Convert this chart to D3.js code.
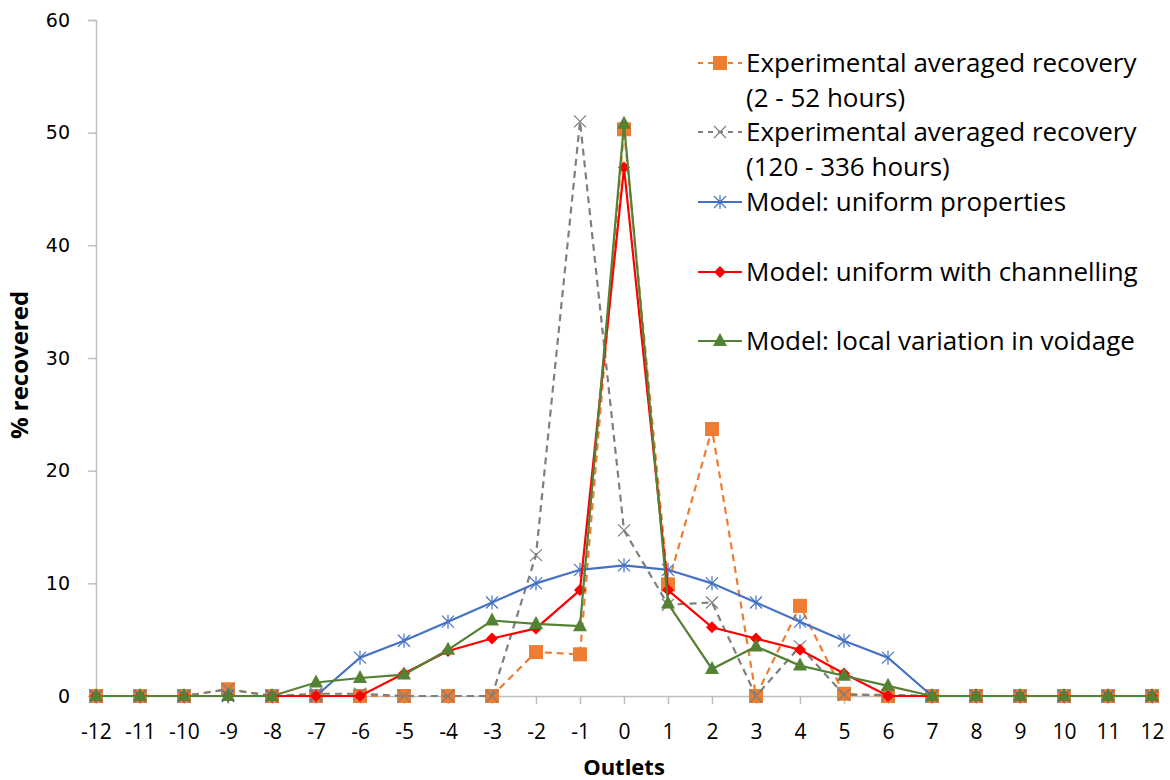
<!DOCTYPE html>
<html>
<head>
<meta charset="utf-8">
<script src="https://cdn.jsdelivr.net/npm/d3@7"></script>
<style>
body { margin: 0; background: #fff; }
text { font-family: "Open Sans", Lato, sans-serif; fill: #000; }
</style>
</head>
<body>
<div id="chart"></div>
<script>
// outlets -12 .. 12
var outlets = [-12,-11,-10,-9,-8,-7,-6,-5,-4,-3,-2,-1,0,1,2,3,4,5,6,7,8,9,10,11,12];

var exp2to52 =    [0,0,0,0.6,0,0,0,0,0,0,3.9,3.7,50.3,9.9,23.7,0,8.0,0.2,0,0,0,0,0,0,0];
var exp120to336 = [0,0,0,0.6,0,0.2,0.2,0,0,0,12.5,51.0,14.7,8.1,8.3,0,4.4,0.1,0.1,0,0,0,0,0,0];
var modelUniform = [0,0,0,0,0,0,3.4,4.9,6.6,8.3,10.0,11.2,11.6,11.2,10.0,8.3,6.6,4.9,3.4,0,0,0,0,0,0];
var modelChannel = [0,0,0,0,0,0,0,2.0,4.0,5.1,6.0,9.4,46.9,9.4,6.1,5.1,4.1,2.0,0,0,0,0,0,0,0];
var modelVoidage = [0,0,0,0,0,1.2,1.6,1.9,4.1,6.7,6.4,6.2,50.8,8.2,2.4,4.4,2.7,1.8,0.9,0,0,0,0,0,0];

var yTicks = [0,10,20,30,40,50,60];

var series = [
  {name: ["Experimental averaged recovery", "(2 - 52 hours)"], values: exp2to52, color: "#ED7D31", dash: "7,5", marker: "square", ly: 63},
  {name: ["Experimental averaged recovery", "(120 - 336 hours)"], values: exp120to336, color: "#7F7F7F", dash: "7,5", marker: "cross", ly: 132},
  {name: ["Model: uniform properties"], values: modelUniform, color: "#4472C4", dash: null, marker: "star", ly: 202},
  {name: ["Model: uniform with channelling"], values: modelChannel, color: "#FF0000", dash: null, marker: "diamond", ly: 272},
  {name: ["Model: local variation in voidage"], values: modelVoidage, color: "#548235", dash: null, marker: "triangle", ly: 341}
];

var svg = d3.select("#chart").append("svg")
  .attr("width", 1170)
  .attr("height", 780);

var x = d3.scaleLinear().domain([-12, 12]).range([96, 1152]);
var y = d3.scaleLinear().domain([0, 60]).range([696, 20]);

// axes
var yAxis = svg.append("g")
  .attr("transform", "translate(96,0)")
  .call(d3.axisLeft(y).tickValues(yTicks).tickSize(8).tickPadding(18));
yAxis.selectAll("line, path").attr("stroke", "#BFBFBF").attr("stroke-width", 1.5);
yAxis.selectAll("text").style("font-family", "'DejaVu Sans', sans-serif").style("font-size", "19px").attr("fill", "#000");

var xAxis = svg.append("g")
  .attr("transform", "translate(0,696)")
  .call(d3.axisBottom(x).tickValues(outlets).tickFormat(function(d) { return String(d); })
    .tickSize(8).tickPadding(20).tickSizeOuter(0));
xAxis.selectAll("line, path").attr("stroke", "#BFBFBF").attr("stroke-width", 1.5);
xAxis.selectAll("text").style("font-family", "'Open Sans', sans-serif").style("font-size", "21px").attr("fill", "#000");

svg.append("text")
  .attr("x", 624).attr("y", 775)
  .attr("text-anchor", "middle")
  .style("font-size", "22px").style("font-weight", "bold")
  .text("Outlets");

svg.append("text")
  .attr("transform", "translate(28,365) rotate(-90)")
  .attr("text-anchor", "middle")
  .style("font-size", "24px").style("font-weight", "bold")
  .text("% recovered");

// markers
function drawMarker(g, type, color, cx, cy) {
  if (type == "square") {
    g.append("rect").attr("x", cx - 7).attr("y", cy - 7).attr("width", 14).attr("height", 14)
      .attr("fill", color);
  } else if (type == "cross") {
    g.append("path").attr("d", "M" + (cx-6) + "," + (cy-6) + "L" + (cx+6) + "," + (cy+6) + "M" + (cx-6) + "," + (cy+6) + "L" + (cx+6) + "," + (cy-6))
      .attr("stroke", color).attr("stroke-width", 1.2).attr("fill", "none");
  } else if (type == "star") {
    g.append("path").attr("d", "M" + (cx-6) + "," + (cy-6) + "L" + (cx+6) + "," + (cy+6) + "M" + (cx-6) + "," + (cy+6) + "L" + (cx+6) + "," + (cy-6) + "M" + cx + "," + (cy-7) + "L" + cx + "," + (cy+7))
      .attr("stroke", color).attr("stroke-width", 1.2).attr("fill", "none");
  } else if (type == "diamond") {
    g.append("path").attr("d", "M" + cx + "," + (cy-6) + "L" + (cx+6) + "," + cy + "L" + cx + "," + (cy+6) + "L" + (cx-6) + "," + cy + "Z")
      .attr("fill", color);
  } else if (type == "triangle") {
    g.append("path").attr("d", "M" + cx + "," + (cy-8) + "L" + (cx+7) + "," + (cy+5) + "L" + (cx-7) + "," + (cy+5) + "Z")
      .attr("fill", color);
  }
}

var line = d3.line()
  .x(function(d, i) { return x(outlets[i]); })
  .y(function(d) { return y(d); });

series.forEach(function(s) {
  var g = svg.append("g");
  g.append("path")
    .datum(s.values)
    .attr("d", line)
    .attr("fill", "none")
    .attr("stroke", s.color)
    .attr("stroke-width", 2.2)
    .attr("stroke-dasharray", s.dash);
  s.values.forEach(function(v, i) {
    drawMarker(g, s.marker, s.color, x(outlets[i]), y(v));
  });
});

// legend
series.forEach(function(s) {
  var g = svg.append("g");
  g.append("line")
    .attr("x1", 698).attr("x2", 742)
    .attr("y1", s.ly).attr("y2", s.ly)
    .attr("stroke", s.color).attr("stroke-width", 2)
    .attr("stroke-dasharray", s.dash ? "5,5" : null);
  drawMarker(g, s.marker, s.color, 720, s.ly);
  s.name.forEach(function(t, k) {
    g.append("text")
      .attr("x", 746).attr("y", s.ly + 9 + k * 35)
      .style("font-size", "26px")
      .text(t);
  });
});
</script>
</body>
</html>
